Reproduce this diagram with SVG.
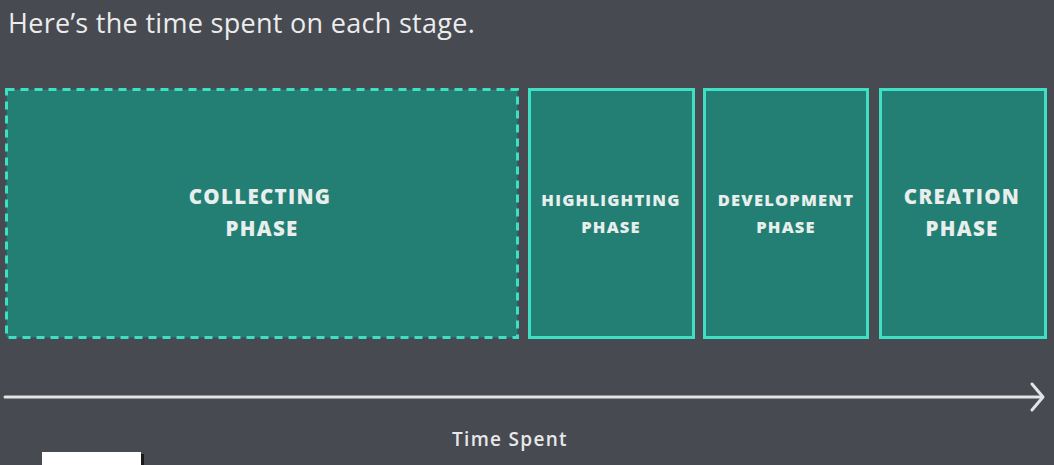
<svg xmlns="http://www.w3.org/2000/svg" width="1054" height="465" viewBox="0 0 1054 465">
<style>
.box{fill:#237f74;stroke:#3ee0c4;stroke-width:3}
.dash{stroke-dasharray:8 6}
.lbl{font-family:"Open Sans","Noto Sans",sans-serif;font-weight:800;fill:#e8eeec;text-anchor:middle}
.big{font-size:20.5px;letter-spacing:1.3px}
.small{font-size:16.5px;letter-spacing:1.2px}
</style>
<rect width="1054" height="465" fill="#474a51"/>
<text x="8" y="33" font-family="'Open Sans','Noto Sans',sans-serif" font-size="27" letter-spacing="0.3" fill="#ececec">Here’s the time spent on each stage.</text>
<g id="collecting">
<rect class="box dash" x="6.5" y="89.5" width="511" height="248"/>
<text class="lbl big" x="260" y="204">COLLECTING</text>
<text class="lbl big" x="262" y="236">PHASE</text>
</g>
<g id="highlighting">
<rect class="box" x="529.5" y="89.5" width="164" height="248"/>
<text class="lbl small" x="611" y="206">HIGHLIGHTING</text>
<text class="lbl small" x="611" y="233">PHASE</text>
</g>
<g id="development">
<rect class="box" x="704.5" y="89.5" width="163" height="248"/>
<text class="lbl small" x="786" y="206">DEVELOPMENT</text>
<text class="lbl small" x="786" y="233">PHASE</text>
</g>
<g id="creation">
<rect class="box" x="880.5" y="89.5" width="165" height="248"/>
<text class="lbl big" x="962" y="204">CREATION</text>
<text class="lbl big" x="962" y="236">PHASE</text>
</g>
<g id="connectors" fill="none" stroke="#e4e4e6" stroke-width="3" stroke-linecap="round" stroke-linejoin="round">
<line x1="5" y1="397" x2="1041" y2="397"/>
<polyline points="1032,384 1043,397 1032,410"/>
</g>
<text x="510" y="446" font-family="'Open Sans','Noto Sans',sans-serif" font-weight="600" font-size="19" letter-spacing="1.3" fill="#e8e8e8" text-anchor="middle">Time Spent</text>
<g id="timestamp">
<rect x="42" y="452" width="99" height="14" fill="#ffffff"/>
<rect x="141" y="454" width="3" height="12" fill="#1a1a1a"/>
</g>
</svg>
